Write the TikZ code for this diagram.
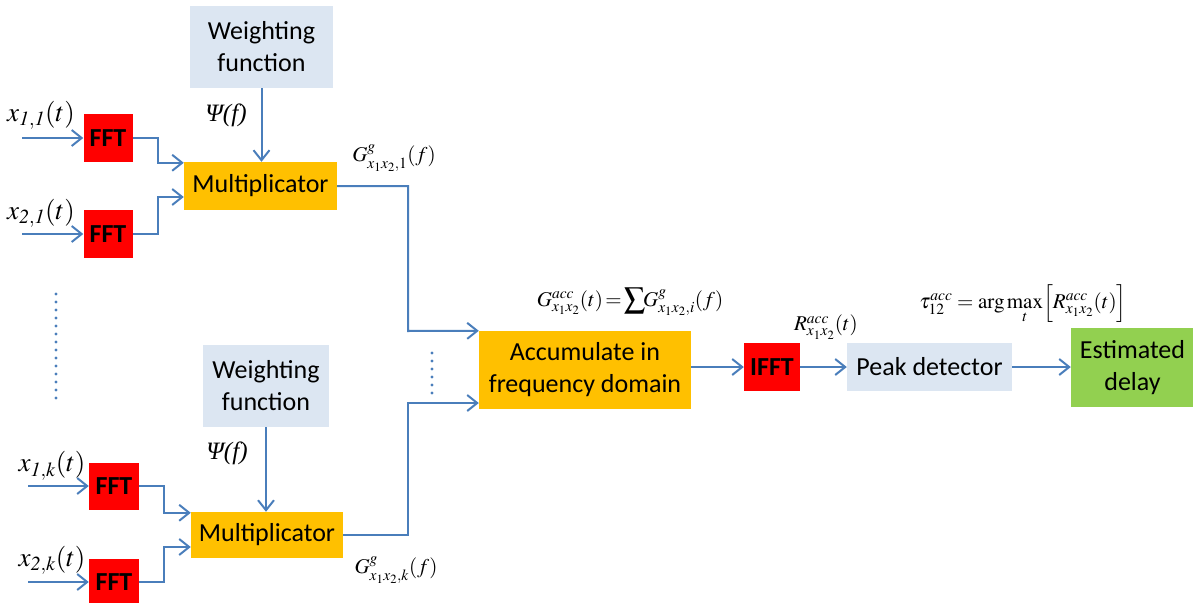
\documentclass[tikz,border=0pt]{standalone}
\usepackage{mathptmx}
\usepackage{fontspec}
\setmainfont{Carlito}
\newfontfamily\tms{Liberation Serif}
\usetikzlibrary{arrows.meta}
\definecolor{linkblue}{HTML}{4A7EBB}
\definecolor{fftred}{HTML}{FF0000}
\definecolor{paleblue}{HTML}{DCE6F2}
\definecolor{amber}{HTML}{FFC000}
\definecolor{leafgreen}{HTML}{92D050}
\tikzset{
  blk/.style={inner sep=0pt, align=center, font=\fontsize{26}{32}\selectfont},
  fftbox/.style={blk, fill=fftred, font=\fontsize{26}{32}\selectfont\bfseries},
  wbox/.style={blk, fill=paleblue},
  obox/.style={blk, fill=amber},
  gbox/.style={blk, fill=leafgreen},
  arr/.style={draw=linkblue, line width=2pt, -{Straight Barb[length=10pt,width=16pt,line width=2pt]}},
  dotline/.style={draw=linkblue, line width=3.2pt, line cap=round, dash pattern=on 0pt off 8pt},
  sig/.style={inner sep=0pt, font=\fontsize{27}{30}\selectfont},
  eq/.style={inner sep=0pt, font=\fontsize{21}{24}\selectfont},
  psi/.style={inner sep=0pt, font=\fontsize{25}{30}\selectfont\tms\itshape},
}
\begin{document}
\begin{tikzpicture}[x=1pt,y=-1pt]
\useasboundingbox (0,0) rectangle (1193,602);

% upper branch
\node[wbox, minimum width=143pt, minimum height=82pt] (w1) at (261.5,47) {Weighting\\function};
\node[fftbox, minimum width=49pt, minimum height=48pt] (fft1) at (108,138) {FFT};
\node[fftbox, minimum width=49pt, minimum height=48pt] (fft2) at (108,234) {FFT};
\node[obox, minimum width=153pt, minimum height=48pt] (m1) at (260.5,186) {Multiplicator};

% lower branch
\node[wbox, minimum width=126pt, minimum height=82pt] (w2) at (266,386) {Weighting\\function};
\node[fftbox, minimum width=50pt, minimum height=47pt] (fft3) at (114,486) {FFT};
\node[fftbox, minimum width=50pt, minimum height=47pt] (fft4) at (114,582) {FFT};
\node[obox, minimum width=152pt, minimum height=46pt] (m2) at (267,535) {Multiplicator};

% accumulation and detection chain
\node[obox, minimum width=212pt, minimum height=78pt] (acc) at (585,370) {Accumulate in\\frequency domain};
\node[fftbox, minimum width=56pt, minimum height=48pt] (ifft) at (772,367) {IFFT};
\node[wbox, minimum width=165pt, minimum height=48pt] (peak) at (929.5,367) {Peak detector};
\node[gbox, minimum width=123pt, minimum height=79pt] (est) at (1132.5,367.5) {Estimated\\delay};

% signal labels
\node[sig] (l11) at (41,115) {$x_{\mathit{1,1}}(t)$};
\node[sig] (l21) at (41,213) {$x_{\mathit{2,1}}(t)$};
\node[sig] (l1k) at (52,466) {$x_{\mathit{1,k}}(t)$};
\node[sig] (l2k) at (52,560) {$x_{\mathit{2,k}}(t)$};
\node[psi] (p1) at (226,115) {Ψ(f)};
\node[psi] (p2) at (227,453) {Ψ(f)};
\node[eq] (g1) at (394,158) {$G^{g}_{x_1x_2,1}(f)$};
\node[eq] (gk) at (396,570) {$G^{g}_{x_1x_2,k}(f)$};
\node[eq] (gacc) at (630,302) {$G^{acc}_{x_1x_2}(t)\!=\!{\displaystyle\sum}\! G^{g}_{x_1x_2,i}(f)$};
\node[eq] (racc) at (826,327) {$R^{acc}_{x_1x_2}(t)$};
\node[eq] (tau) at (1023,304) {$\tau^{acc}_{12}=\arg\max\limits_{t}\Bigl[R^{acc}_{x_1x_2}(t)\Bigr]$};

% free ends of the input arrows and bend points
\coordinate (i11) at (22,138);
\coordinate (i21) at (22,234);
\coordinate (i1k) at (28,486);
\coordinate (i2k) at (28,582);
\coordinate (b1) at (408,331);
\coordinate (b2) at (408,403);

% inputs
\draw[arr] (i11) -- (fft1.west);
\draw[arr] (i21) -- (fft2.west);
\draw[arr] (i1k) -- (fft3.west);
\draw[arr] (i2k) -- (fft4.west);

% FFT outputs into the multiplicators
\draw[arr] (fft1.east) -- ++(25,0) |- ([yshift=-1pt]m1.north west);
\draw[arr] (fft2.east) -- ++(25,0) |- ([yshift=-11pt]m1.west);
\draw[arr] (fft3.east) -- ++(25,0) |- ([yshift=-1pt]m2.north west);
\draw[arr] (fft4.east) -- ++(25,0) |- ([yshift=-12pt]m2.west);

% weighting functions
\draw[arr] (w1.south) -- (w1.south |- m1.north);
\draw[arr] (w2.south) -- (w2.south |- m2.north);

% multiplicators into the accumulator
\draw[arr] (m1.east) -| (b1) -- (acc.north west);
\draw[arr] (m2.east) -| (b2) -- (acc.west |- b2);

% chain
\draw[arr] (acc.east |- ifft.west) -- (ifft.west);
\draw[arr] (ifft.east) -- (peak.west);
\draw[arr] (peak.east) -- (est.west |- peak.east);

% ellipses
\coordinate (d1) at (56,294);
\coordinate (d2) at (56,400);
\coordinate (d3) at (432,353);
\coordinate (d4) at (432,393);
\draw[dotline] (d1) -- (d2);
\draw[dotline] (d3) -- (d4);
\end{tikzpicture}
\end{document}
